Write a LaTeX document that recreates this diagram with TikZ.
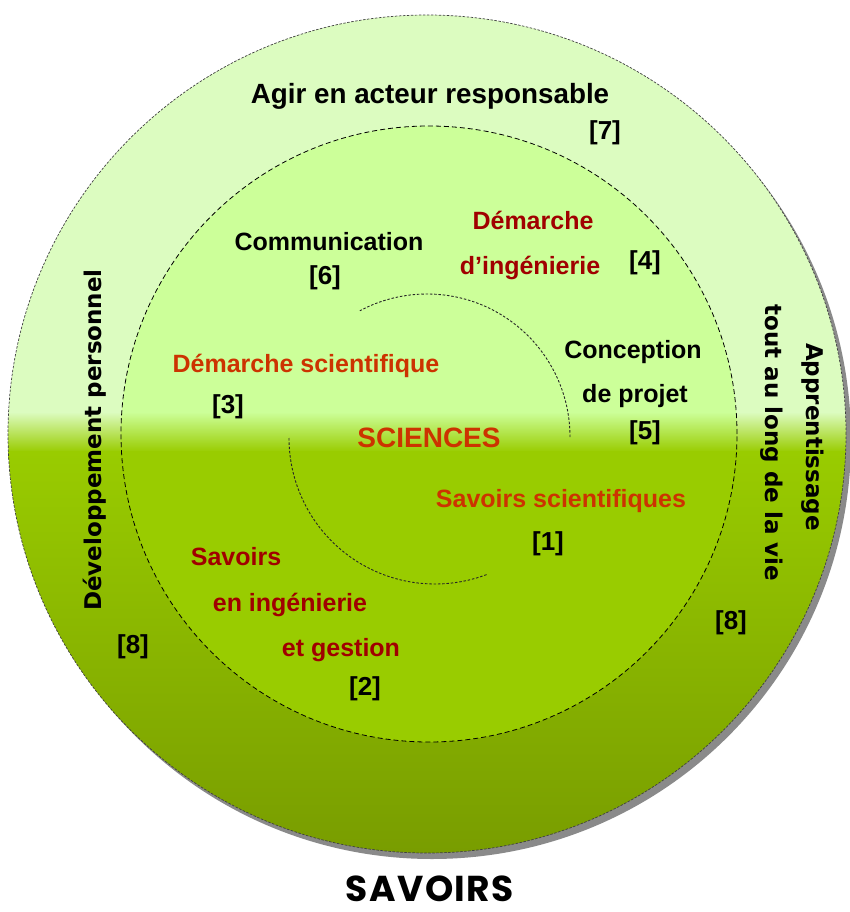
\documentclass[tikz,border=0pt]{standalone}
\usepackage{fontspec}
\setmainfont{Liberation Sans}
\newfontfamily\dvfont{DejaVu Sans}
\newfontfamily\popfont[LetterSpace=4]{Poppins}
\definecolor{outerTop}{HTML}{DCFCC0}
\definecolor{innerTop}{HTML}{CCFF99}
\definecolor{greenA}{HTML}{99CC00}
\definecolor{greenB}{HTML}{789C00}
\definecolor{shadowgray}{HTML}{8A8A8A}
\definecolor{darkred}{HTML}{A00000}
\definecolor{orangered}{HTML}{CC3300}
\begin{document}
\begin{tikzpicture}[x=1pt,y=-1pt,
  lbl/.style={font=\fontsize{25}{30}\selectfont\bfseries, anchor=base, inner sep=0pt},
  big/.style={font=\fontsize{27.8}{32}\selectfont\bfseries, anchor=base, inner sep=0pt},
  ref/.style={font=\fontsize{26}{30}\selectfont\bfseries, anchor=base, inner sep=0pt},
  vert/.style={font=\dvfont\fontsize{23}{28}\selectfont\bfseries, inner sep=0pt},
  ringline/.style={draw=black!75, line width=0.7pt, dash pattern=on 2.5pt off 1.5pt},
  innerline/.style={draw=black, line width=0.8pt, dash pattern=on 5pt off 3pt},
  spiral/.style={draw=black!85, line width=0.9pt, dash pattern=on 2.5pt off 1.8pt}]
\useasboundingbox (0,0) rectangle (849,912);
\coordinate (O) at (427,434);
\coordinate (I) at (429,434);
\coordinate (S1) at (427,437);
\coordinate (S2) at (435,438);
% shadow
\fill[shadowgray] (432,440) circle (419pt);
% outer disk
\begin{scope}
  \clip (O) circle (419pt);
  \fill[outerTop] (0,0) rectangle (849,413);
  \shade[top color=outerTop, bottom color=greenA] (0,412) rectangle (849,452);
  \shade[top color=greenA, bottom color=greenB] (0,451) rectangle (849,860);
\end{scope}
\draw[ringline] (O) circle (419pt);
% inner disk
\begin{scope}
  \clip (I) circle (308pt);
  \fill[innerTop] (0,0) rectangle (849,413);
  \shade[top color=innerTop, bottom color=greenA] (0,412) rectangle (849,452);
  \fill[greenA] (0,451) rectangle (849,760);
\end{scope}
\draw[innerline] (I) circle (308pt);
% spiral arcs
\draw[spiral] (S1) ++(0:143pt) arc[start angle=0, end angle=118, radius=143pt];
\draw[spiral] (S2) ++(180:146pt) arc[start angle=180, end angle=291, radius=146pt];
% labels
\node[big] (agir) at (430,104) {Agir en acteur responsable};
\node[ref] (r7) at (605,140) {[7]};
\node[lbl] (comm) at (329,250) {Communication};
\node[ref] (r6) at (325,284) {[6]};
\node[lbl, text=darkred] (dem1) at (533,229) {Démarche};
\node[lbl, text=darkred] (dem2) at (530,274) {d’ingénierie};
\node[ref] (r4) at (645,269) {[4]};
\node[lbl] (conc1) at (633,358) {Conception};
\node[lbl] (conc2) at (635,402) {de projet};
\node[ref] (r5) at (645,439) {[5]};
\node[lbl, text=orangered] (dsci) at (306,372) {Démarche scientifique};
\node[ref] (r3) at (228,413) {[3]};
\node[font=\fontsize{28}{32}\selectfont\bfseries, anchor=base, inner sep=0pt, text=orangered] (sci) at (429,447) {SCIENCES};
\node[lbl, text=orangered] (ssci) at (561,507) {Savoirs scientifiques};
\node[ref] (r1) at (548,550) {[1]};
\node[lbl, text=darkred] (sav1) at (236,565) {Savoirs};
\node[lbl, text=darkred] (sav2) at (290,611) {en ingénierie};
\node[lbl, text=darkred] (sav3) at (341,656) {et gestion};
\node[ref] (r2) at (365,695) {[2]};
\node[ref] (r8a) at (133,653) {[8]};
\node[ref] (r8b) at (731,629) {[8]};
\node[vert, rotate=90] (dev) at (95,440) {Développement personnel};
\node[vert, rotate=-90] (app) at (813,437) {Apprentissage};
\node[vert, rotate=-90] (tout) at (772,443) {tout au long de la vie};
\node[font=\popfont\fontsize{36}{42}\selectfont\bfseries, anchor=base, inner sep=0pt, text depth=0pt] (savoirs) at (430,901) {SAVOIRS};
\end{tikzpicture}
\end{document}
